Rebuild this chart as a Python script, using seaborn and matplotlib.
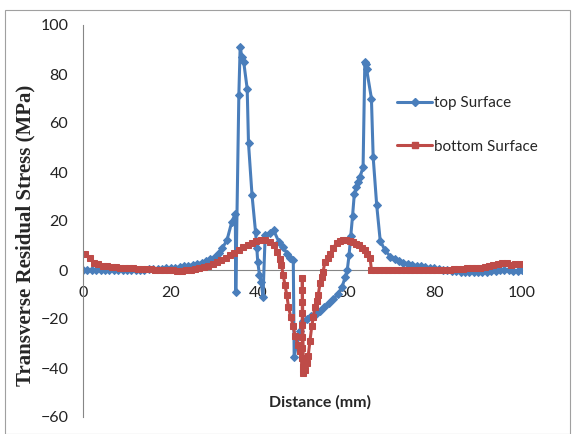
import matplotlib
matplotlib.use("Agg")
import matplotlib.pyplot as plt
import seaborn as sns
from matplotlib.lines import Line2D

# ---- data ----
top_x = [0, 1, 2, 3, 4, 5, 6, 7, 8, 9, 10, 11, 12, 13, 14, 15, 16, 17, 18, 19,
         20, 21, 22, 23, 24, 25, 26, 27, 28, 29, 30, 31, 31.7, 32.8, 33.9, 34.7,
         34.8, 35.5, 35.8, 36.2, 36.6, 37.4, 37.7, 38.5, 39.3, 39.6, 39.8, 40.2,
         40.6, 41.0, 41.5, 42.5, 43.4, 44.6, 45.6, 46.5, 47.2, 47.9, 48.1, 48.7,
         49.4, 50.2, 51, 52, 53, 54, 55, 56, 57, 58, 59, 59.7, 60.2, 60.6, 61,
         61.4, 61.8, 62.3, 62.7, 63.1, 63.8, 64.2, 64.4, 64.6, 65.7, 66.1, 66.9,
         67.7, 68.8, 70, 71, 72, 73, 74, 75, 76, 77, 78, 79, 80, 81, 82, 83, 84,
         85, 86, 87, 88, 89, 90, 91, 92, 93, 94, 95, 96, 97, 98, 99, 100]
top_y = [0, 0, 0, 0, 0, 0, 0, 0, 0, 0, 0, 0, 0, 0.1, 0.2, 0.3, 0.4, 0.5, 0.6, 0.7,
         0.8, 1.0, 1.2, 1.5, 1.8, 2.1, 2.5, 3.0, 3.6, 4.3, 5.2, 6.8, 8.8, 12.2, 19.7, 23,
         -8.8, 71.4, 91, 87, 85, 74, 51.7, 30.6, 15.6, 8.8, 3.4, -2,
         -5, -11, 14.3, 15, 16.3, 11.6, 9.5, 6.5, 4.8, 4, -35.4, -30,
         -25, -21, -20, -18.8, -17.8, -16.6, -15, -13.6, -12, -9.8, -7, -3, 0, 6, 14,
         22, 31, 34, 36, 38, 42, 85, 84, 82, 70, 46, 26.5,
         12, 8, 5.5, 4.5, 3.8, 3, 2.6, 2.2, 1.8, 1.5, 1.2, 1.0, 0.8, 0.5, 0.2, 0, -0.3,
         -0.5, -0.7, -0.8, -0.9, -0.9, -0.9, -0.8, -0.7, -0.5, -0.3, 0, 0.2, 0, -0.3, -0.4, 0]

bottom_x = [0.5, 1.5, 2.5, 3.5, 4.5, 5.5, 6.5, 7.5, 8.5, 9.5, 10.5, 11.5, 12.5, 13.5,
            14.5, 15.5, 16.5, 17.5, 18.5, 19.5, 20.5, 21.5, 22.5, 23.5, 24.5, 25.5,
            26.5, 27.5, 28.5, 29.5, 30.5, 31.5, 32.5, 33.5, 34.5, 35.5, 36.5, 37.5,
            38.5, 39.5, 40.5, 41.5, 42.5, 43.5, 44.2, 44.8, 45.2, 45.6, 46, 46.4,
            46.8, 47.3, 47.9, 48.3, 49, 49.4, 49.8, 50.1, 50.2,
            49.95, 49.95, 49.95, 49.95, 49.95, 49.95, 49.95, 50.0, 50.1,
            50.6, 51, 51.3, 51.7, 52.1, 52.5, 52.8, 53.2, 53.6, 54, 54.4, 54.7, 55.1,
            55.7, 56.3, 57, 57.8, 58.5, 59.3, 60, 60.8, 61.5, 62.2, 62.9, 63.6, 64.2,
            64.8, 65.4, 65.7, 66.5, 67.5, 68.5, 69.5, 70.5, 71.5, 72.5, 73.5, 74.5,
            75.5, 76.5, 77.5, 78.5, 79.5, 80.5, 81.5, 82.5, 83.5, 84.5, 85.5, 86.5,
            87.5, 88.5, 89.5, 90.5, 91.5, 92.5, 93.5, 94.5, 95.5, 96.5, 97.5, 98.5, 99.5]
bottom_y = [6.5, 4.8, 3, 2.3, 1.8, 1.5, 1.3, 1.1, 1, 0.9, 0.8, 0.7, 0.6, 0.5,
            0.4, 0.3, 0.2, 0.1, 0, -0.1, -0.2, -0.3, -0.3, -0.2, 0, 0.3,
            0.7, 1.2, 1.8, 2.5, 3.2, 4, 5, 6, 7.1, 8.2, 9.3, 10.3,
            11.2, 11.9, 12.3, 12.2, 11.6, 10.2, 7.5, 4.5, 2, -2, -6, -10,
            -15, -19, -23, -27, -30.6, -33, -36, -39, -42,
            -3.4, -8.2, -12.9, -17.7, -22.4, -27.2, -32, -36.5, -40.5,
            -41, -38, -35, -29, -23, -19, -15, -12.5, -10, -5.4, -3, -0.7, 3.4,
            5, 6.5, 9, 11, 12, 12.3, 12.2, 12, 11.6, 10.8, 10.2, 9, 8,
            6.5, 4.8, 0, 0, 0, 0, 0, 0, 0, 0, 0, 0,
            0, 0, 0, 0, 0, 0.1, 0.1, 0.2, 0.2, 0.3, 0.3, 0.5,
            0.7, 0.8, 0.9, 1, 1.2, 1.5, 2, 2.5, 2.9, 3, 2.2, 2.3, 2.3]

y_ticks = [-60, -40, -20, 0, 20, 40, 60, 80, 100]
x_ticks = [0, 20, 40, 60, 80, 100]

blue = "#4A7EBB"
red = "#BE4B48"
grey = "#868686"

sns.set_style("white")
plt.rcParams["font.family"] = ["Lato", "DejaVu Sans"]

fig = plt.figure(figsize=(5.75, 4.34), dpi=100)
ax = fig.add_axes([83 / 575, 1 - 417 / 434, (522 - 83) / 575, (417 - 25) / 434])

sns.lineplot(x=top_x, y=top_y, sort=False, estimator=None, ax=ax, color=blue,
             linewidth=2.2, marker="D", markersize=4.5, markeredgecolor=blue,
             label="top Surface")
sns.lineplot(x=bottom_x, y=bottom_y, sort=False, estimator=None, ax=ax, color=red,
             linewidth=2.2, marker="s", markersize=4.5, markeredgecolor=red,
             label="bottom Surface")

ax.set_xlim(0, 100)
ax.set_ylim(-60, 100)
ax.set_xticks(x_ticks)
ax.set_yticks(y_ticks)

for s in ["top", "right"]:
    ax.spines[s].set_visible(False)
ax.spines["left"].set_color(grey)
ax.spines["left"].set_linewidth(0.8)
ax.spines["bottom"].set_position(("data", 0))
ax.spines["bottom"].set_color(grey)
ax.spines["bottom"].set_linewidth(0.8)
ax.spines["bottom"].set_zorder(0)

ax.tick_params(axis="both", which="major", direction="out", length=3.6,
               width=0.8, color=grey, labelsize=11.5, labelcolor="#222222")
ax.tick_params(axis="x", pad=8)
ax.tick_params(axis="y", pad=7)

# x label sits below the plot, not next to the zero line
ax.set_xlabel("")
fig.text(320 / 575, 1 - 402 / 434, "Distance (mm)", fontsize=11.5,
         fontweight="bold", ha="center", va="center")

ax.set_ylabel("Transverse Residual Stress (MPa)", fontsize=15, fontweight="bold",
              family=["Liberation Serif"])
ax.yaxis.set_label_coords(25 / 575, 1 - 235 / 434, transform=fig.transFigure)
ax.yaxis.label.set_va("center")

handles = [Line2D([], [], color=blue, lw=2.2, marker="D", markersize=4.5),
           Line2D([], [], color=red, lw=2.2, marker="s", markersize=4.5)]
ax.legend(handles, ["top Surface", "bottom Surface"], frameon=False, fontsize=11,
          loc="upper left", bbox_to_anchor=(397 / 575, 1 - 96 / 434),
          bbox_transform=fig.transFigure, borderpad=0, handlelength=2.3,
          handletextpad=0.15, labelspacing=1.95, borderaxespad=0)

# chart-area border
fig.add_artist(plt.Rectangle((5 / 575, 0), 565 / 575, 1 - 10 / 434, fill=False,
                             edgecolor="#a0a0a0", linewidth=0.8,
                             transform=fig.transFigure))

fig.savefig("out.png", dpi=100)
